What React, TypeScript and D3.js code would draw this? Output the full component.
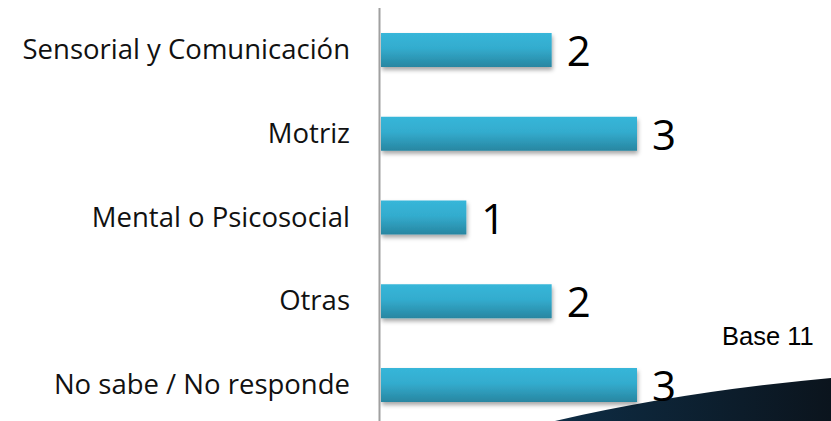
import React from "react";
import * as d3 from "d3";

const categories = [
  "Sensorial y Comunicación",
  "Motriz",
  "Mental o Psicosocial",
  "Otras",
  "No sabe / No responde",
];
const values = [2, 3, 1, 2, 3];
const baseNote = "Base 11";

const W = 831;
const H = 421;

export default function App() {
  const x = d3.scaleLinear().domain([0, 3]).range([381, 637]);
  const y = d3.scalePoint<string>().domain(categories).range([50, 385]);
  const barH = 34;

  const swoosh = d3.path();
  swoosh.moveTo(555, H);
  swoosh.quadraticCurveTo(680, 392, W, 378);
  swoosh.lineTo(W, H);
  swoosh.closePath();

  return (
    <svg
      width={W}
      height={H}
      style={{ position: "absolute", left: 0, top: 0, display: "block" }}
    >
      <defs>
        <linearGradient id="barGrad" x1="0" y1="0" x2="0" y2="1">
          <stop offset="0%" stopColor="#37b6d9" />
          <stop offset="45%" stopColor="#33acce" />
          <stop offset="100%" stopColor="#2886a1" />
        </linearGradient>
        <linearGradient id="swooshGrad" x1="0" y1="0" x2="1" y2="0">
          <stop offset="0%" stopColor="#0e2d45" />
          <stop offset="100%" stopColor="#0b141d" />
        </linearGradient>
        <filter id="shadow" x="-5%" y="-20%" width="115%" height="160%">
          <feDropShadow dx="1" dy="3" stdDeviation="2.2" floodColor="#000" floodOpacity="0.35" />
        </filter>
      </defs>
      <rect x={0} y={0} width={W} height={H} fill="#ffffff" />
      <path d={swoosh.toString()} fill="url(#swooshGrad)" />
      {categories.map((c, i) => (
        <g key={c}>
          <rect
            x={x(0)}
            y={(y(c) as number) - barH / 2}
            width={x(values[i]) - x(0)}
            height={barH}
            fill="url(#barGrad)"
            filter="url(#shadow)"
          />
          <text
            x={350}
            y={(y(c) as number) + 9}
            textAnchor="end"
            fontFamily="'Open Sans', sans-serif"
            fontSize={27.5}
            fill="#111"
          >
            {c}
          </text>
          <text
            x={x(values[i]) + 15}
            y={(y(c) as number) + 16}
            fontFamily="'Open Sans', sans-serif"
            fontSize={42}
            fill="#000"
          >
            {values[i]}
          </text>
        </g>
      ))}
      <line x1={379.5} x2={379.5} y1={8} y2={H} stroke="#a0a0a0" strokeWidth={2} />
      <text
        x={722}
        y={345}
        fontFamily="'Liberation Sans', Arial, sans-serif"
        fontSize={25.5}
        fill="#000"
      >
        {baseNote}
      </text>
    </svg>
  );
}
